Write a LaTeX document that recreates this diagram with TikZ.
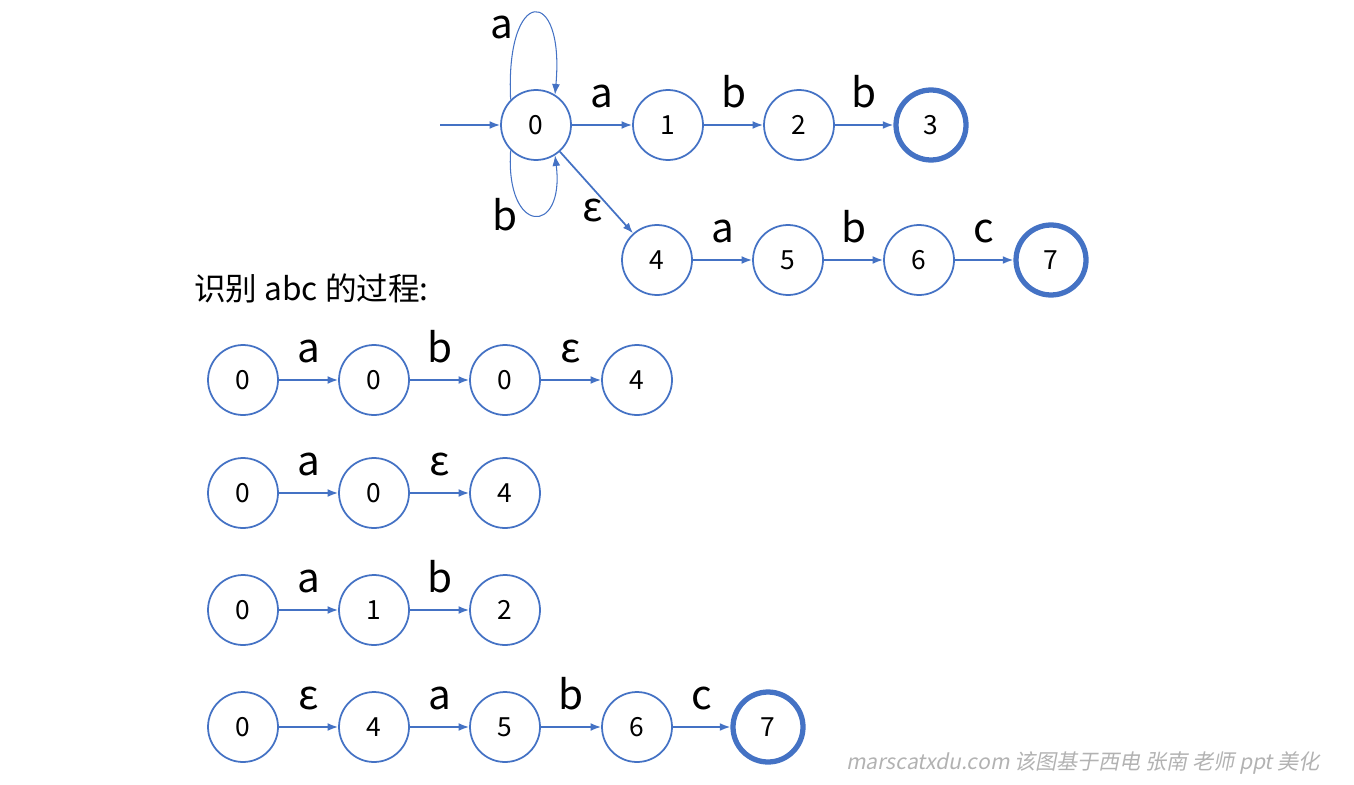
\documentclass[tikz,border=0pt]{standalone}
\usepackage{fontspec}
\setmainfont{Noto Sans CJK SC}
\newfontfamily\wmfont[FakeSlant=0.2]{Noto Sans CJK SC}
\usepackage{tikz}
\usetikzlibrary{positioning, arrows.meta}

\definecolor{nfablue}{HTML}{4472C4}

\begin{document}
\begin{tikzpicture}[x=0.02cm, y=-0.02cm, >={Latex[length=6pt,width=4.5pt]}]

\tikzset{
  st/.style={draw=nfablue, circle, line width=1pt, minimum size=1.4cm, inner sep=0pt, font=\fontsize{15}{18}\selectfont},
  acc/.style={st, line width=3pt},
  tr/.style={->, draw=nfablue, line width=1pt},
  lp/.style={->, draw=nfablue, line width=0.6pt},
  lbl/.style={font=\fontsize{23}{26}\selectfont, inner sep=0pt},
}

\useasboundingbox (0,0) rectangle (1354,784);

% NFA
\coordinate (start) at (440,125);
\node[st] (q0) at (536,125) {0};
\node[st] (q1) at (668,125) {1};
\node[st] (q2) at (799,125) {2};
\node[acc] (q3) at (931,125) {3};
\node[st] (q4) at (657,260) {4};
\node[st] (q5) at (788,260) {5};
\node[st] (q6) at (919,260) {6};
\node[acc] (q7) at (1051,260) {7};

\draw[tr] (start) -- (q0);
\draw[tr] (q0) -- node[lbl, above=9pt] {a} (q1);
\draw[tr] (q1) -- node[lbl, above=9pt] {b} (q2);
\draw[tr] (q2) -- node[lbl, above=9pt] {b} (q3);
\draw[tr] (q4) -- node[lbl, above=9pt] {a} (q5);
\draw[tr] (q5) -- node[lbl, above=9pt] {b} (q6);
\draw[tr] (q6) -- node[lbl, above=9pt] {c} (q7);
\draw[tr] (q0) -- node[lbl, left=5pt, pos=0.72] {ε} (q4);
\draw[lp] (q0.135) .. controls (505,-15) and (565,-15) .. (q0.58);
\draw[lp] (q0.225) .. controls (505,236) and (565,236) .. (q0.-58);
\node[lbl] (la) at (502,28) {a};
\node[lbl] (lb) at (505,215) {b};

\node[anchor=west, font=\fontsize{18}{21}\selectfont] (title) at (188,288) {识别 abc 的过程:};

% row 1
\node[st] (r1a) at (243,380) {0};
\node[st] (r1b) at (374,380) {0};
\node[st] (r1c) at (505,380) {0};
\node[st] (r1d) at (637,380) {4};
\draw[tr] (r1a) -- node[lbl, above=9pt] {a} (r1b);
\draw[tr] (r1b) -- node[lbl, above=9pt] {b} (r1c);
\draw[tr] (r1c) -- node[lbl, above=9pt] {ε} (r1d);

% row 2
\node[st] (r2a) at (243,493) {0};
\node[st] (r2b) at (374,493) {0};
\node[st] (r2c) at (505,493) {4};
\draw[tr] (r2a) -- node[lbl, above=9pt] {a} (r2b);
\draw[tr] (r2b) -- node[lbl, above=9pt] {ε} (r2c);

% row 3
\node[st] (r3a) at (243,610) {0};
\node[st] (r3b) at (374,610) {1};
\node[st] (r3c) at (505,610) {2};
\draw[tr] (r3a) -- node[lbl, above=9pt] {a} (r3b);
\draw[tr] (r3b) -- node[lbl, above=9pt] {b} (r3c);

% row 4
\node[st] (r4a) at (243,727) {0};
\node[st] (r4b) at (374,727) {4};
\node[st] (r4c) at (505,727) {5};
\node[st] (r4d) at (637,727) {6};
\node[acc] (r4e) at (768,727) {7};
\draw[tr] (r4a) -- node[lbl, above=9pt] {ε} (r4b);
\draw[tr] (r4b) -- node[lbl, above=9pt] {a} (r4c);
\draw[tr] (r4c) -- node[lbl, above=9pt] {b} (r4d);
\draw[tr] (r4d) -- node[lbl, above=9pt] {c} (r4e);

\node[anchor=east, text=black!30, font=\wmfont\fontsize{12}{15}\selectfont] (mark) at (1326,763) {marscatxdu.com 该图基于西电 张南 老师 ppt 美化};

\end{tikzpicture}
\end{document}
